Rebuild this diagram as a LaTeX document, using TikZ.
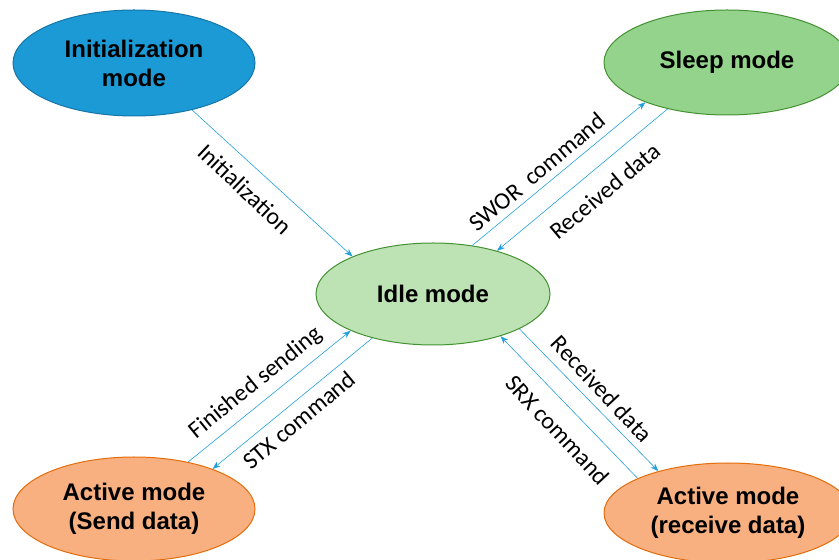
\documentclass[tikz,border=0pt]{standalone}
\usepackage{fontspec}
\setmainfont{Liberation Sans}
\newfontfamily\lblfont{Carlito}
\usetikzlibrary{shapes.geometric, arrows.meta}

\definecolor{initfill}{RGB}{27,154,214}
\definecolor{initedge}{RGB}{22,118,168}
\definecolor{sleepfill}{RGB}{147,211,139}
\definecolor{idlefill}{RGB}{189,226,179}
\definecolor{greenedge}{RGB}{68,145,50}
\definecolor{activefill}{RGB}{248,176,129}
\definecolor{activeedge}{RGB}{228,108,10}
\definecolor{linkblue}{RGB}{35,160,220}

\begin{document}
\begin{tikzpicture}[x=1pt, y=1pt,
    mode/.style={ellipse, draw, line width=1pt, inner sep=0pt, align=center,
      font=\fontsize{24}{29}\selectfont\bfseries},
    link/.style={-{Stealth[length=8pt, width=6pt]}, draw=linkblue, line width=0.6pt},
    lbl/.style={font=\lblfont\fontsize{24}{28}\selectfont}]
  \useasboundingbox (0,0) rectangle (839,560);

  % states
  \node[mode, fill=initfill, draw=initedge, minimum width=242, minimum height=106] (init) at (134,497) {Initialization\\mode};
  \node[mode, fill=sleepfill, draw=greenedge, minimum width=246, minimum height=105] (sleep) at (727,497.5) {Sleep mode};
  \node[mode, fill=idlefill, draw=greenedge, minimum width=234, minimum height=102] (idle) at (433,266) {Idle mode};
  \node[mode, fill=activefill, draw=activeedge, minimum width=242, minimum height=104] (send) at (134,51) {Active mode\\(Send data)};
  \node[mode, fill=activefill, draw=activeedge, minimum width=248, minimum height=100] (recv) at (728,47) {Active mode\\(receive data)};

  % transitions
  \draw[link] (init.-39) -- (idle.155);
  \draw[link] (idle.51) -- (sleep.-154);
  \draw[link] (sleep.218) -- (idle.34);
  \draw[link] (send.41) -- (idle.204);
  \draw[link] (idle.216) -- (send.27);
  \draw[link] (idle.-22) -- (recv.149);
  \draw[link] (recv.159) -- (idle.-32);

  % transition labels
  \node[lbl, rotate=-43.5] (linit) at (245,371) {Initialization};
  \node[lbl, rotate=40] (lswor) at (537,388) {SWOR\ \ command};
  \node[lbl, rotate=40] (lwake) at (605,369) {Received data};
  \node[lbl, rotate=39] (ldone) at (256,177) {Finished sending};
  \node[lbl, rotate=40] (lstx) at (299,140) {STX command};
  \node[lbl, rotate=-47] (lrecv) at (602,171) {Received data};
  \node[lbl, rotate=-47] (lsrx) at (558,130) {SRX command};
\end{tikzpicture}
\end{document}
